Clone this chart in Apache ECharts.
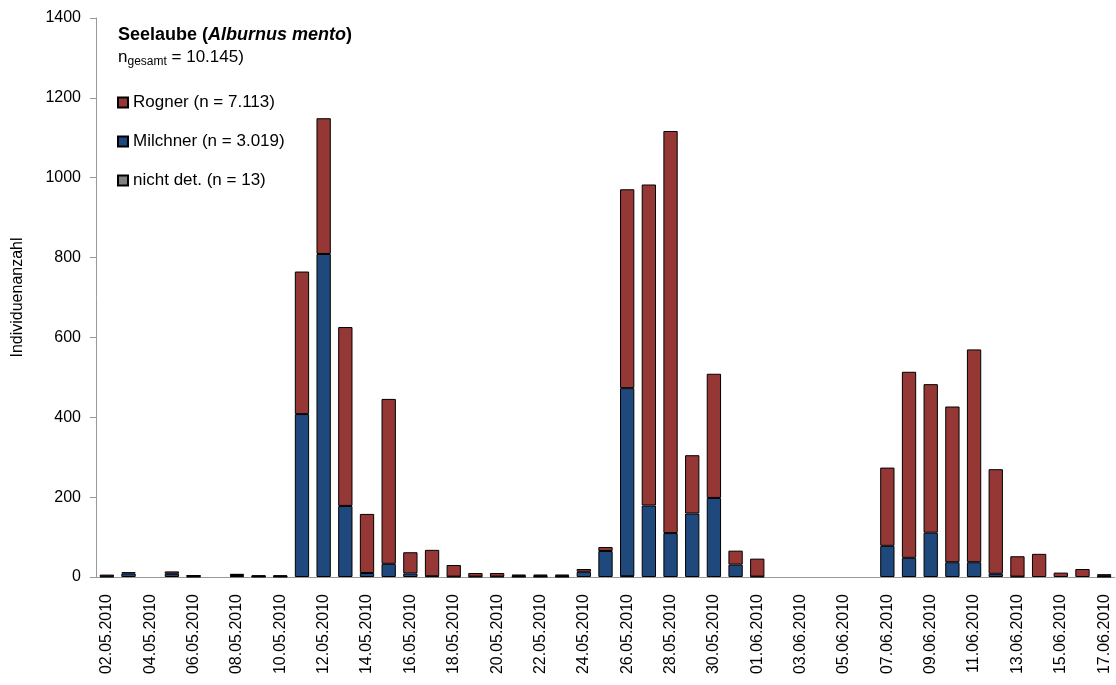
<!DOCTYPE html>
<html>
<head>
<meta charset="utf-8">
<script src="https://cdn.jsdelivr.net/npm/echarts@6/dist/echarts.min.js"></script>
<style>
  html, body { margin: 0; padding: 0; background: #fff; }
  #main { width: 1116px; height: 685px; }
</style>
</head>
<body>
<div id="main"></div>
<script>
  var days = ['02.05.2010','03.05.2010','04.05.2010','05.05.2010','06.05.2010','07.05.2010','08.05.2010',
    '09.05.2010','10.05.2010','11.05.2010','12.05.2010','13.05.2010','14.05.2010','15.05.2010','16.05.2010',
    '17.05.2010','18.05.2010','19.05.2010','20.05.2010','21.05.2010','22.05.2010','23.05.2010','24.05.2010',
    '25.05.2010','26.05.2010','27.05.2010','28.05.2010','29.05.2010','30.05.2010','31.05.2010','01.06.2010',
    '02.06.2010','03.06.2010','04.06.2010','05.06.2010','06.06.2010','07.06.2010','08.06.2010','09.06.2010',
    '10.06.2010','11.06.2010','12.06.2010','13.06.2010','14.06.2010','15.06.2010','16.06.2010','17.06.2010'];

  // Milchner (blau, unten)
  var milchner = [1, 9, 0, 8, 2, 0, 3, 1, 1, 408, 809, 178, 10, 33, 9, 2, 1, 0, 0, 2, 2, 2, 13, 65,
    471, 179, 110, 159, 198, 31, 1, 0, 0, 0, 0, 0, 78, 48, 111, 37, 37, 8, 1, 0, 0, 0, 2];
  // Rogner (rot)
  var rogner = [5, 3, 0, 6, 1, 0, 3, 2, 2, 357, 340, 448, 148, 413, 53, 66, 29, 9, 9, 3, 3, 3, 7, 10,
    498, 804, 1007, 146, 311, 35, 45, 0, 0, 0, 0, 0, 196, 466, 372, 390, 533, 262, 51, 58, 11, 20, 4];
  // nicht det.
  var nichtDet = [0, 0, 0, 0, 1, 0, 2, 1, 1, 0, 0, 0, 0, 0, 0, 0, 0, 1, 1, 1, 1, 1, 0, 0,
    2, 0, 0, 0, 0, 0, 0, 0, 0, 0, 0, 0, 0, 0, 0, 0, 0, 0, 0, 0, 0, 0, 1];

  var yTicks = [0, 200, 400, 600, 800, 1000, 1200, 1400];

  function noZero(arr) {
    return arr.map(function (v) { return v === 0 ? '-' : v; });
  }

  var font = '"Liberation Sans", Arial, sans-serif';
  var chart = echarts.init(document.getElementById('main'));

  chart.setOption({
    animation: false,
    textStyle: { fontFamily: font, color: '#000' },
    title: {
      left: 113,
      top: 21,
      itemGap: 2,
      text: '{b|Seelaube (}{bi|Alburnus mento}{b|)}',
      textStyle: {
        rich: {
          b: { fontFamily: font, fontSize: 18, fontWeight: 'bold', color: '#000' },
          bi: { fontFamily: font, fontSize: 18, fontWeight: 'bold', fontStyle: 'italic', color: '#000' }
        }
      },
      subtext: '{n|n}{sub|gesamt}{n| = 10.145)}',
      subtextStyle: {
        rich: {
          n: { fontFamily: font, fontSize: 17, color: '#000', lineHeight: 22 },
          sub: { fontFamily: font, fontSize: 12, color: '#000', padding: [10, 0, 0, 0], lineHeight: 22 }
        }
      }
    },
    legend: {
      orient: 'vertical',
      left: 112,
      top: 89,
      itemWidth: 10,
      itemHeight: 10,
      itemGap: 22,
      icon: 'rect',
      textStyle: { fontFamily: font, fontSize: 17, color: '#000' },
      data: ['Rogner (n = 7.113)', 'Milchner (n = 3.019)', 'nicht det. (n = 13)']
    },
    grid: { left: 96, right: 1, top: 18, bottom: 108 },
    xAxis: {
      type: 'category',
      data: days,
      boundaryGap: true,
      axisLine: { lineStyle: { color: '#999' } },
      axisTick: { interval: 1, length: 6, lineStyle: { color: '#999' } },
      axisLabel: { interval: 1, rotate: 90, fontSize: 16, color: '#000', margin: 17, fontFamily: font }
    },
    yAxis: {
      type: 'value',
      min: yTicks[0],
      max: yTicks[yTicks.length - 1],
      interval: 200,
      name: 'Individuenanzahl',
      nameLocation: 'middle',
      nameGap: 70,
      nameTextStyle: { fontSize: 16, color: '#000', fontFamily: font },
      axisLine: { show: true, lineStyle: { color: '#999' } },
      axisTick: { show: true, length: 6, lineStyle: { color: '#999' } },
      splitLine: { show: false },
      axisLabel: {
        fontSize: 16, color: '#000', margin: 15, fontFamily: font,
        formatter: function (v) { return String(v); }
      }
    },
    series: [
      {
        name: 'nicht det. (n = 13)',
        type: 'bar',
        stack: 'a',
        barCategoryGap: '34%',
        data: noZero(nichtDet),
        itemStyle: { color: '#808080', borderColor: '#000', borderWidth: 1 }
      },
      {
        name: 'Milchner (n = 3.019)',
        type: 'bar',
        stack: 'a',
        data: noZero(milchner),
        itemStyle: { color: '#1f497d', borderColor: '#000', borderWidth: 1 }
      },
      {
        name: 'Rogner (n = 7.113)',
        type: 'bar',
        stack: 'a',
        data: noZero(rogner),
        itemStyle: { color: '#953735', borderColor: '#000', borderWidth: 1 }
      }
    ]
  });
</script>
</body>
</html>
